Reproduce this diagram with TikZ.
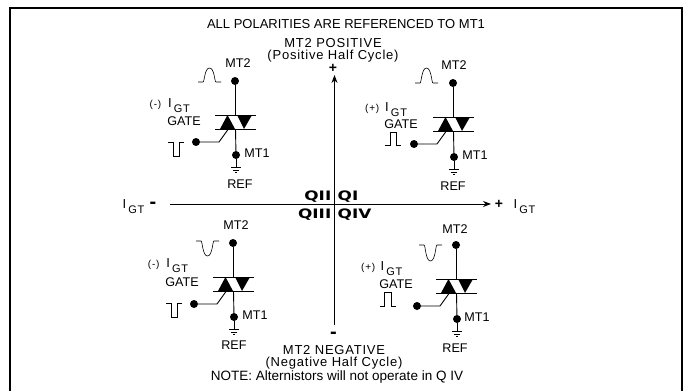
\documentclass[tikz,border=0pt]{standalone}
\usepackage{fontspec}
\setmainfont{Liberation Sans}
\newfontfamily\lblfont{Liberation Sans}
\newfontfamily\spreadfont[LetterSpace=6]{Liberation Sans}
\newfontfamily\subfont[LetterSpace=8]{Liberation Sans}
\newfontfamily\quadfont{DejaVu Sans Bold}
\usetikzlibrary{arrows.meta}
\newcommand{\gtsub}{\kern2pt\raisebox{-5pt}{\fontsize{11}{11}\selectfont\subfont GT}}
\newcommand{\polar}[2]{\makebox[#1pt][l]{\fontsize{10}{10}\selectfont\subfont #2}}
\tikzset{
  x=1pt,y=-1pt,
  lbl/.style={inner sep=0pt,font=\fontsize{12.6}{13}\selectfont\lblfont},
  spread/.style={inner sep=0pt,font=\fontsize{13}{14}\selectfont\spreadfont},
  ttl/.style={inner sep=0pt,font=\fontsize{13}{14}\selectfont\lblfont},
  igt/.style={inner sep=0pt,anchor=base west,font=\fontsize{13}{14}\selectfont\lblfont},
  quad/.style={inner sep=0pt,font=\fontsize{13}{13}\selectfont\quadfont},
  sgn/.style={inner sep=0pt,font=\fontsize{14}{14}\selectfont\bfseries},
  dashsgn/.style={inner sep=0pt,font=\fontsize{20}{20}\selectfont\bfseries},
  termdot/.style={circle,fill=black,inner sep=0pt,minimum size=8pt},
  wire/.style={line width=.9pt},
  wave/.style={line width=.6pt},
  axis/.style={line width=.9pt,-{Stealth[length=8pt,width=6pt]}},
  tri/.style={fill=black,draw=none},
}
% triac: #1 name prefix, #2 x shift, #3 y shift
\newcommand{\triacsym}[3]{%
\begin{scope}[shift={(#2,#3)}]
  \node[termdot] (#1top) at (235,81) {};
  \node[termdot] (#1mt) at (236,155) {};
  \node[termdot] (#1gt) at (196,142) {};
  \coordinate (#1ua) at (235,115);
  \coordinate (#1la) at (235.5,129);
  \coordinate (#1elbow) at (219,142);
  \coordinate (#1tip) at (228,129.5);
  \coordinate (#1gnd) at (236,167);
  \draw[wire] (#1top) -- (#1ua);
  \draw[wire] (#1la) -- (#1mt);
  \draw[wire] (#1mt) -- (#1gnd);
  \draw[wire] (#1gt) -- (#1elbow) -- (#1tip);
  \draw[wire] (215,115) -- (256,115);
  \draw[wire] (215,129) -- (256,129);
  \fill[tri] (227.5,115) -- (220,129) -- (235,129) -- cycle;
  \fill[tri] (237,115) -- (252,115) -- (244,129) -- cycle;
  \draw[wave] (231,167) -- (241,167);
  \draw[wave] (233,170) -- (239,170);
  \draw[wave] (235,172.5) -- (237,172.5);
\end{scope}}
\newcommand{\humpw}[3]{\draw[wave,shift={(#1,#2)}] (0,0) -- (5,0) .. controls (6.5,0) and (6.5,-#3) .. (11.5,-#3) .. controls (16.5,-#3) and (16.5,0) .. (18,0) -- (23,0);}
\newcommand{\pulsew}[6]{\draw[wave] (#1,#5) -- (#2,#5) -- (#2,#6) -- (#3,#6) -- (#3,#5) -- (#4,#5);}
\begin{document}
\begin{tikzpicture}
\useasboundingbox (0,0) rectangle (683,391);
\draw[line width=2pt] (10,391) -- (10,8) -- (682,8) -- (682,391);
% axes
\coordinate (vbot) at (334.5,325);
\coordinate (vtop) at (334.5,75);
\coordinate (hl) at (170,204);
\coordinate (hr) at (491,204);
\draw[axis] (vbot) -- (vtop);
\draw[axis] (hl) -- (hr);
% titles
\node[ttl] (title) at (346,24) {ALL POLARITIES ARE REFERENCED TO MT1};
\node[spread] (pos) at (333,43) {MT2 POSITIVE};
\node[spread] (poshalf) at (333,56) {(Positive Half Cycle)};
\node[sgn] (plus) at (333,68) {+};
\node[dashsgn] (minus) at (333.5,335) {-};
\node[spread] (neg) at (334,350) {MT2 NEGATIVE};
\node[spread] (neghalf) at (334,363) {(Negative Half Cycle)};
\node[ttl,font=\fontsize{13.5}{14}\selectfont\lblfont] (note) at (337,377) {NOTE: Alternistors will not operate in Q IV};
% horizontal labels
\node[igt] (il) at (122.5,208.5) {I\gtsub};
\node[dashsgn] (ml) at (153,205) {-};
\node[sgn] (pr) at (499,204) {+};
\node[igt] (ir) at (513.5,208.5) {I\gtsub};
\node[quad,anchor=east] (q2) at (331.5,197) {\scalebox{1.3}[1]{QII}};
\node[quad,anchor=west] (q1) at (337.5,197) {\scalebox{1.3}[1]{QI}};
\node[quad,anchor=east] (q3) at (331.5,215) {\scalebox{1.3}[1]{QIII}};
\node[quad,anchor=west] (q4) at (337.5,215) {\scalebox{1.3}[1]{QIV}};
% devices
\triacsym{a}{0}{0}
\triacsym{b}{218}{2}
\triacsym{c}{-2}{162}
\triacsym{d}{221}{164}
% top-left
\node[lbl] (a2) at (238,63) {MT2};
\node[igt] (ai) at (149.5,107.5) {\polar{18.5}{(-)}I\gtsub};
\node[lbl] (ag) at (184,121) {GATE};
\node[lbl] (a1) at (257,153) {MT1};
\node[lbl] (ar) at (240,184) {REF};
\humpw{198}{82}{14}
\pulsew{168}{173}{179}{184}{142}{156}
% top-right
\node[lbl] (b2) at (454,65) {MT2};
\node[igt] (bi) at (365,111) {\polar{20}{(+)}I\gtsub};
\node[lbl] (bg) at (401,124) {GATE};
\node[lbl] (b1) at (475,155) {MT1};
\node[lbl] (br) at (453,186) {REF};
\humpw{415}{83}{15}
\pulsew{385}{390}{396}{401}{145}{132}
% bottom-left
\node[lbl] (c2) at (236,225) {MT2};
\node[igt] (ci) at (147.7,267.5) {\polar{18.5}{(-)}I\gtsub};
\node[lbl] (cg) at (182,282) {GATE};
\node[lbl] (c1) at (255,315) {MT1};
\node[lbl] (cr) at (234,345) {REF};
\humpw{196}{241}{-15}
\pulsew{166}{171}{177}{182}{303}{317}
% bottom-right
\node[lbl] (d2) at (455,229) {MT2};
\node[igt] (di) at (361,270) {\polar{19.5}{(+)}I\gtsub};
\node[lbl] (dg) at (396,284) {GATE};
\node[lbl] (d1) at (477,317) {MT1};
\node[lbl] (dr) at (455,348) {REF};
\humpw{419}{245}{-16}
\pulsew{380}{384}{391}{396}{306}{292}
\end{tikzpicture}
\end{document}
